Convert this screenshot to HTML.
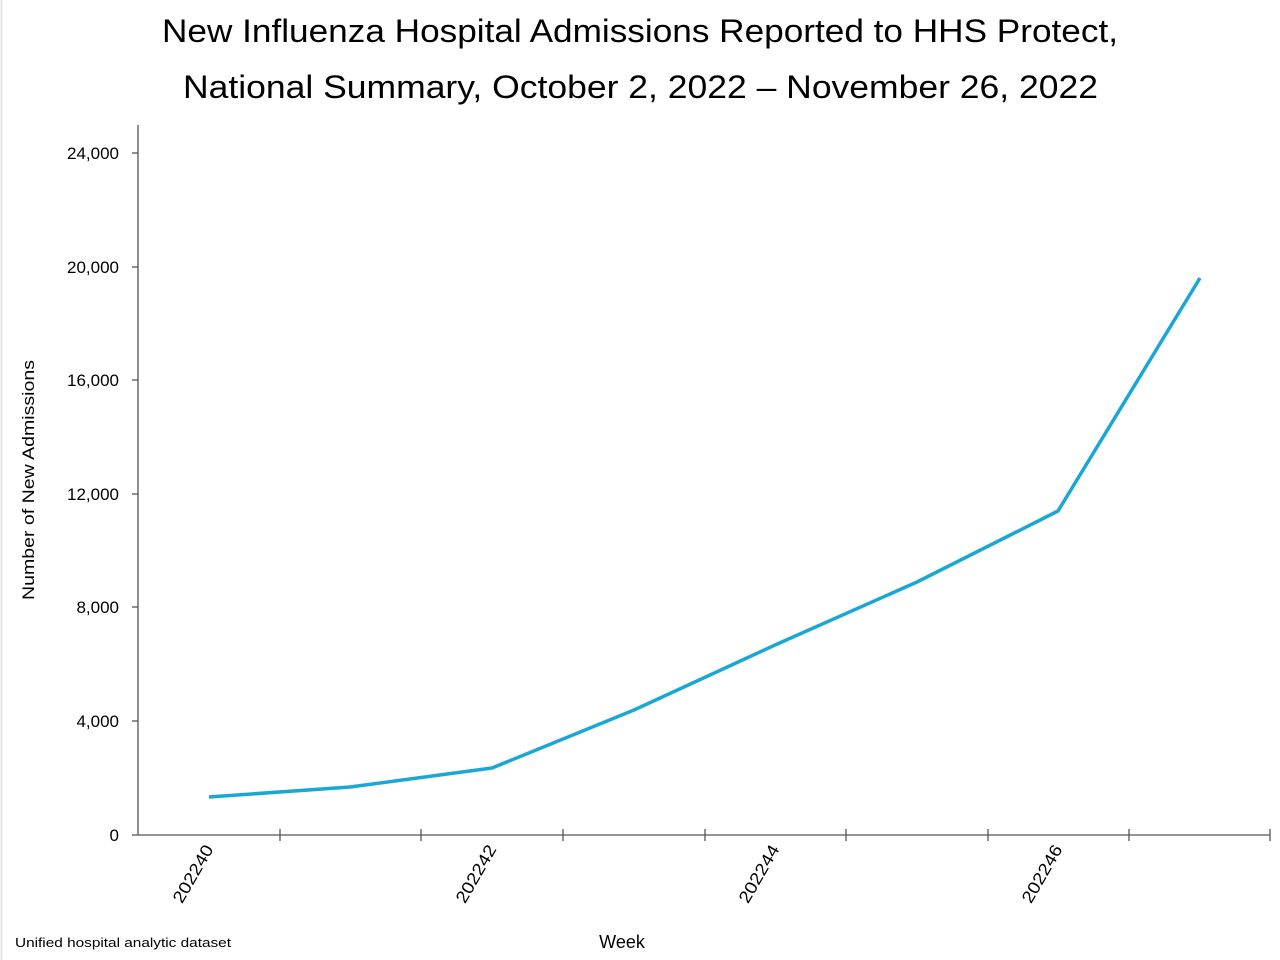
<!DOCTYPE html>
<html><head><meta charset="utf-8"><style>body{margin:0;background:#fff}svg{display:block}</style></head><body>
<svg width="1280" height="960" xmlns="http://www.w3.org/2000/svg" font-family="Liberation Sans, DejaVu Sans, sans-serif">
<rect width="1280" height="960" fill="#fff"/>
<line x1="1.5" y1="0" x2="1.5" y2="960" stroke="#e4e4e4" stroke-width="2"/>
<text x="162" y="42" font-size="32" textLength="956" lengthAdjust="spacingAndGlyphs" fill="#000">New Influenza Hospital Admissions Reported to HHS Protect,</text>
<text x="183" y="98" font-size="32" textLength="915" lengthAdjust="spacingAndGlyphs" fill="#000">National Summary, October 2, 2022 – November 26, 2022</text>
<g stroke="#555" stroke-width="1.3" fill="none">
<line x1="138" y1="125" x2="138" y2="835"/>
<line x1="132" y1="835" x2="1270" y2="835"/>
<line x1="132" y1="721" x2="138" y2="721"/><line x1="132" y1="607" x2="138" y2="607"/><line x1="132" y1="494" x2="138" y2="494"/><line x1="132" y1="380" x2="138" y2="380"/><line x1="132" y1="267" x2="138" y2="267"/><line x1="132" y1="153" x2="138" y2="153"/>
<line x1="280" y1="829" x2="280" y2="841"/><line x1="421" y1="829" x2="421" y2="841"/><line x1="563" y1="829" x2="563" y2="841"/><line x1="705" y1="829" x2="705" y2="841"/><line x1="846" y1="829" x2="846" y2="841"/><line x1="988" y1="829" x2="988" y2="841"/><line x1="1129" y1="829" x2="1129" y2="841"/><line x1="1270" y1="829" x2="1270" y2="841"/>
</g>
<g font-size="17" text-anchor="end" fill="#000">
<text x="119" y="841">0</text><text x="119" y="727">4,000</text><text x="119" y="613">8,000</text><text x="119" y="500">12,000</text><text x="119" y="386">16,000</text><text x="119" y="273">20,000</text><text x="119" y="159">24,000</text>
<text transform="translate(214,849) rotate(-60)" textLength="64" lengthAdjust="spacingAndGlyphs">202240</text>
<text transform="translate(497,849) rotate(-60)" textLength="64" lengthAdjust="spacingAndGlyphs">202242</text>
<text transform="translate(780,849) rotate(-60)" textLength="64" lengthAdjust="spacingAndGlyphs">202244</text>
<text transform="translate(1063,849) rotate(-60)" textLength="64" lengthAdjust="spacingAndGlyphs">202246</text>
</g>
<text transform="translate(34,600) rotate(-90)" font-size="17" textLength="240" lengthAdjust="spacingAndGlyphs">Number of New Admissions</text>
<text x="622" y="948" font-size="18" text-anchor="middle">Week</text>
<text x="15" y="947" font-size="13" textLength="216" lengthAdjust="spacingAndGlyphs">Unified hospital analytic dataset</text>
<polyline points="209,797 350,787 492,768 634,710 775,645 917,582 1058,511 1200,278" fill="none" stroke="#1ba7d6" stroke-width="3.5" stroke-linejoin="round"/>
</svg>
</body></html>
